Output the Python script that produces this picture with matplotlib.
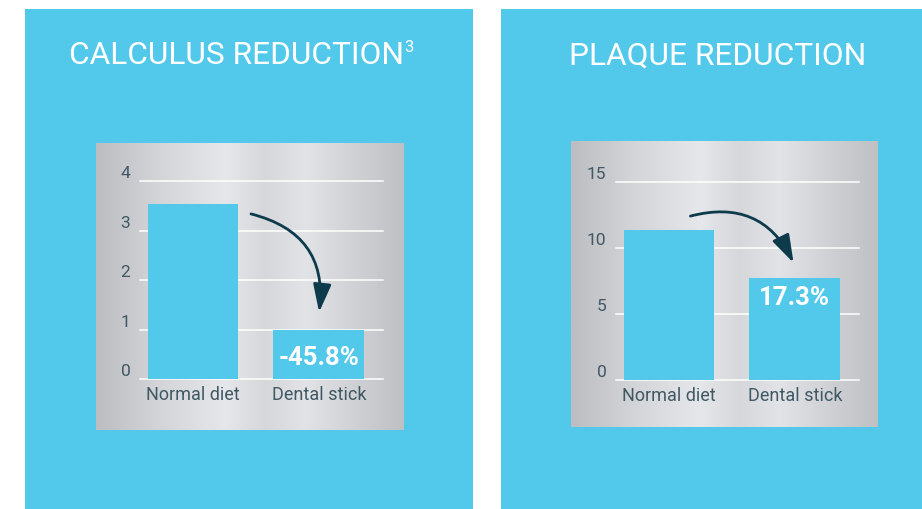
import numpy as np
import matplotlib
matplotlib.use("Agg")
import matplotlib.pyplot as plt
from matplotlib.patches import Rectangle, FancyArrowPatch
from matplotlib.colors import LinearSegmentedColormap

# ---- data ----
categories = ["Normal diet", "Dental stick"]
calculus_values = [3.55, 0.99]
plaque_values = [11.36, 7.75]
calculus_ticks = [0, 1, 2, 3, 4]
plaque_ticks = [0, 5, 10, 15]
calculus_label = "-45.8%"
plaque_label = "17.3%"
titles = ["CALCULUS REDUCTION", "PLAQUE REDUCTION"]
title_sup = "3"

BLUE = "#52C8EA"
DARK = "#0E3B4B"
TICK = "#3F5864"
FONT = "Roboto"

W, H = 922, 509
fig = plt.figure(figsize=(W / 100, H / 100), dpi=100)
fig.patch.set_facecolor("white")


def fx(px):
    return px / W


def fy(py):
    return 1 - py / H


def rect_ax(x0, y0, x1, y1):
    return [fx(x0), fy(y1), fx(x1) - fx(x0), fy(y0) - fy(y1)]


# blue panels
for (x0, x1) in [(25, 473), (501, 922)]:
    fig.patches.append(Rectangle((fx(x0), 0), fx(x1) - fx(x0), fy(9), transform=fig.transFigure,
                                 facecolor=BLUE, edgecolor="none", zorder=0))

# titles
fig.text(fx(236), fy(56), titles[0], color="white", fontsize=22.8, family=FONT,
         ha="center", va="center")
fig.text(fx(404), fy(47), title_sup, color="white", fontsize=12, family=FONT,
         ha="left", va="center")
fig.text(fx(718), fy(56), titles[1], color="white", fontsize=22.8, family=FONT,
         ha="center", va="center")

# gradient boxes
grad_cmap = LinearSegmentedColormap.from_list(
    "metal",
    [(0.0, "#bcbdc1"), (0.2, "#d3d4d7"), (0.42, "#e6e7ea"), (0.55, "#d6d7da"),
     (0.68, "#e2e3e6"), (0.85, "#cfd0d3"), (1.0, "#bfc0c4")])
grad = np.linspace(0, 1, 256).reshape(1, -1)
for box in [(96, 143, 403, 430), (571, 141, 878, 427)]:
    bax = fig.add_axes(rect_ax(*box), zorder=1)
    bax.imshow(grad, aspect="auto", cmap=grad_cmap, extent=[0, 1, 0, 1])
    bax.set_axis_off()


def draw_chart(axbox, values, ticks, label, label_y, arrow_start, arrow_end, rad):
    ax = fig.add_axes(rect_ax(*axbox), zorder=2)
    ax.patch.set_alpha(0)
    x = np.arange(len(values))
    ax.set_xlim(-0.42, 1.51)
    ax.set_ylim(ticks[0], ticks[-1])
    for t in ticks:
        ax.axhline(t, color="white", lw=1.1, zorder=1, clip_on=False)
    ax.bar(x, values, width=0.72, color=BLUE, zorder=2)
    for s in ax.spines.values():
        s.set_visible(False)
    ax.set_yticks(ticks)
    ax.set_yticklabels([str(t) for t in ticks], family=FONT, fontsize=12.5, color=TICK)
    ax.tick_params(axis="y", length=0, pad=7)
    ax.set_xticks(x)
    ax.set_xticklabels(categories, family=FONT, fontsize=13, color=TICK)
    ax.tick_params(axis="x", length=0, pad=5)
    for lab in ax.get_yticklabels():
        lab.set_verticalalignment("bottom")
    ax.text(x[1], label_y, label,
            color="white", fontsize=18.5, fontweight="bold", family=FONT,
            ha="center", va="center", zorder=3)
    arr = FancyArrowPatch(arrow_start, arrow_end,
                          connectionstyle=f"arc3,rad={rad}",
                          arrowstyle="-|>,head_length=17,head_width=5.5",
                          color=DARK, lw=2, zorder=4, mutation_scale=1)
    ax.add_patch(arr)
    return ax


cv, pv = calculus_values, plaque_values
draw_chart((140, 181.3, 383, 379.3), cv, calculus_ticks, calculus_label, cv[1] * 0.43,
           (0.44, cv[0] * 0.945), (1.0, cv[1] + 0.31), -0.45)
draw_chart((616, 182.3, 859, 380), pv, plaque_ticks, plaque_label, pv[1] * 0.80,
           (0.15, pv[0] * 1.09), (1.0, pv[1] + 0.95), -0.42)

fig.savefig("out.png", dpi=100)
